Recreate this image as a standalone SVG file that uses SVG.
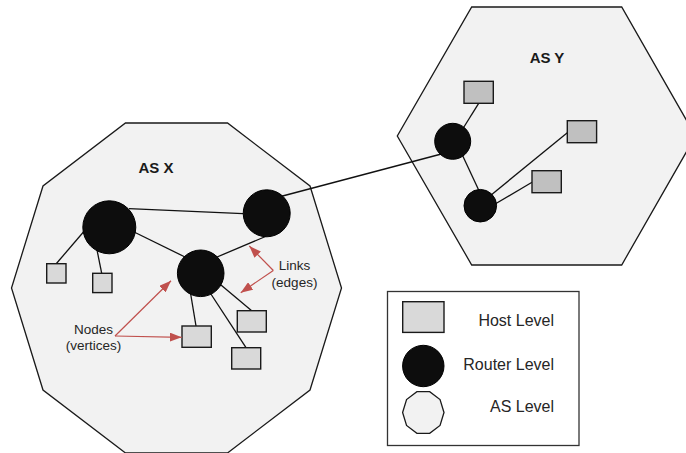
<svg xmlns="http://www.w3.org/2000/svg" width="686" height="453" viewBox="0 0 686 453">
<style>
.as{fill:#f2f2f2;stroke:#1a1a1a;stroke-width:1.3}
.rt{fill:#0d0d0d;stroke:#000;stroke-width:1}
.hx{fill:#d9d9d9;stroke:#1a1a1a;stroke-width:1.4}
.hy{fill:#c0c0c0;stroke:#1a1a1a;stroke-width:1.4}
.ln{stroke:#111;stroke-width:1.3;fill:none}
.ar{stroke:#c0504d;stroke-width:1.2;fill:none;marker-end:url(#ah)}
.t{font-family:"Liberation Sans",Arial,sans-serif;fill:#1a1a1a}
.ttl{font-size:15px;font-weight:bold;text-anchor:middle}
.lab{font-size:13.5px;text-anchor:middle;fill:#262626}
.leg{font-size:16px;text-anchor:end;fill:#262626}
</style>
<defs>
<marker id="ah" viewBox="0 0 12 9" refX="12" refY="4.5" markerWidth="12" markerHeight="9" markerUnits="userSpaceOnUse" orient="auto">
<path d="M0,0 L12,4.5 L0,9 z" fill="#c0504d"/>
</marker>
</defs>
<g id="as-x">
<polygon class="as" points="341.5,288 310,186 227.5,123 125.5,123 43,186 11.5,288 43,390 125.5,453 227.5,453 310,390"/>
<text class="t ttl" x="156" y="172.7">AS X</text>
</g>
<g id="as-y">
<polygon class="as" points="471.7,7 621.7,7 695.5,136 621.7,265 471.7,265 397.3,136"/>
<text class="t ttl" x="547" y="62.7">AS Y</text>
</g>
<g id="connectors">
<line class="ln" x1="129" y1="208.7" x2="243" y2="213.7"/>
<line class="ln" x1="92" y1="222" x2="56" y2="264"/>
<line class="ln" x1="95" y1="240" x2="101.7" y2="273.3"/>
<line class="ln" x1="130" y1="230" x2="185" y2="257"/>
<line class="ln" x1="210" y1="260" x2="266.7" y2="236"/>
<line class="ln" x1="190" y1="290" x2="196" y2="326"/>
<line class="ln" x1="205" y1="285" x2="246" y2="347.7"/>
<line class="ln" x1="215" y1="280" x2="251.7" y2="310.7"/>
<line class="ln" x1="275" y1="198" x2="452.7" y2="151"/>
<line class="ln" x1="462" y1="130" x2="478.7" y2="103.3"/>
<line class="ln" x1="460" y1="150" x2="481" y2="195"/>
<line class="ln" x1="485" y1="200" x2="567.3" y2="132.7"/>
<line class="ln" x1="490" y1="207" x2="532" y2="182.3"/>
</g>
<g id="router-x1"><circle class="rt" cx="109.3" cy="227.3" r="26.5"/></g>
<g id="router-x2"><circle class="rt" cx="266.7" cy="213.3" r="23.5"/></g>
<g id="router-x3"><circle class="rt" cx="200.7" cy="273.3" r="23.3"/></g>
<g id="host-x1"><rect class="hx" x="46.7" y="263.7" width="19.3" height="19.3"/></g>
<g id="host-x2"><rect class="hx" x="92.7" y="273.3" width="19.3" height="19.3"/></g>
<g id="host-x3"><rect class="hx" x="182" y="326" width="29.3" height="21.3"/></g>
<g id="host-x4"><rect class="hx" x="237.3" y="310.7" width="29" height="21.3"/></g>
<g id="host-x5"><rect class="hx" x="231.7" y="347.7" width="29" height="21.3"/></g>
<g id="router-y1"><circle class="rt" cx="452.7" cy="141.3" r="18"/></g>
<g id="router-y2"><circle class="rt" cx="480.3" cy="205.7" r="16.3"/></g>
<g id="host-y1"><rect class="hy" x="464" y="81.3" width="29.3" height="22"/></g>
<g id="host-y2"><rect class="hy" x="567.3" y="120.7" width="29.3" height="22"/></g>
<g id="host-y3"><rect class="hy" x="532" y="170.7" width="29.3" height="22"/></g>
<g id="annotations">
<line class="ar" x1="273.3" y1="270.5" x2="249.3" y2="246"/>
<line class="ar" x1="273.3" y1="270.5" x2="240.7" y2="292.7"/>
<text class="t lab" x="294.5" y="270">Links</text>
<text class="t lab" x="294.5" y="286.5">(edges)</text>
<line class="ar" x1="115" y1="336" x2="171" y2="280.7"/>
<line class="ar" x1="115" y1="336" x2="181.7" y2="337.3"/>
<text class="t lab" x="93.5" y="333.5">Nodes</text>
<text class="t lab" x="93.5" y="350">(vertices)</text>
</g>
<g id="legend">
<rect x="387.5" y="291.5" width="191.5" height="154" fill="#fff" stroke="#333" stroke-width="1.3"/>
<rect class="hx" x="402.7" y="301.7" width="41.3" height="30.7"/>
<circle class="rt" cx="423.3" cy="366" r="20.7"/>
<polygon class="as" points="444,412.5 440.05,399.6 429.7,391.7 416.9,391.7 406.55,399.6 402.6,412.5 406.55,425.4 416.9,433.3 429.7,433.3 440.05,425.4"/>
<text class="t leg" x="554" y="325.7">Host Level</text>
<text class="t leg" x="554" y="370">Router Level</text>
<text class="t leg" x="554" y="412.3">AS Level</text>
</g>
</svg>
